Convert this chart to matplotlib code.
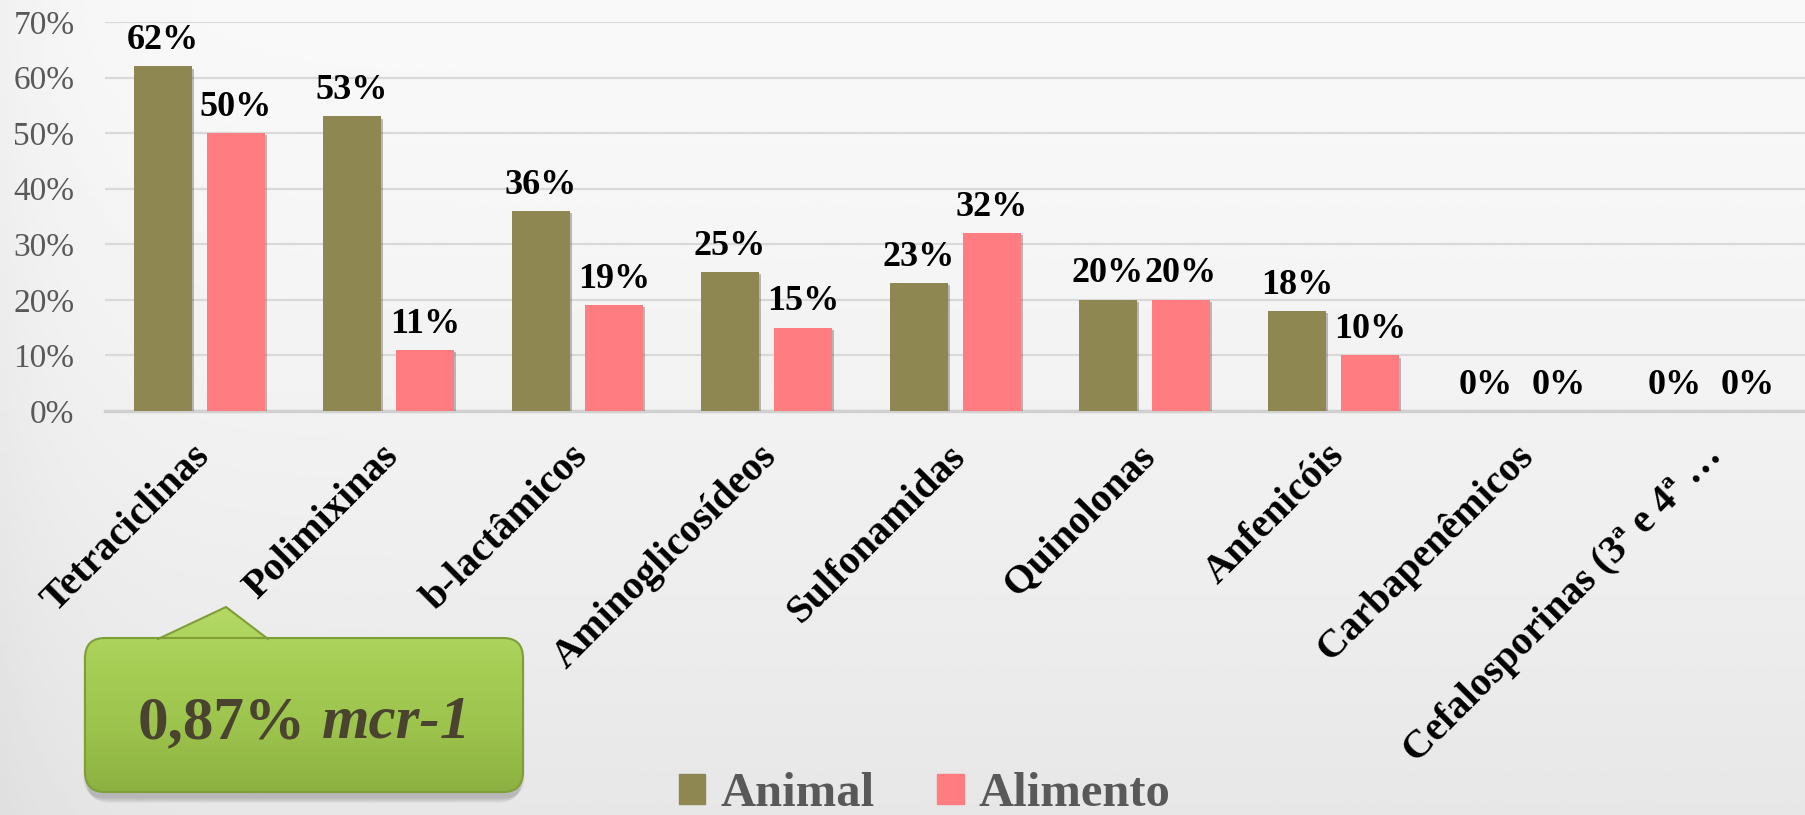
import numpy as np
import matplotlib.pyplot as plt
import matplotlib.patheffects as pe
from matplotlib.patches import FancyBboxPatch, Polygon, Patch
from matplotlib.colors import LinearSegmentedColormap
from matplotlib.transforms import ScaledTranslation

plt.rcParams['font.family'] = ['Liberation Serif', 'DejaVu Serif']

# resistance by antibiotic class
categories = ["Tetraciclinas", "Polimixinas", "b-lactâmicos", "Aminoglicosídeos",
              "Sulfonamidas", "Quinolonas", "Anfenicóis", "Carbapenêmicos",
              "Cefalosporinas (3ª e 4ª …"]
animal = [0.62, 0.53, 0.36, 0.25, 0.23, 0.20, 0.18, 0.0, 0.0]
alimento = [0.50, 0.11, 0.19, 0.15, 0.32, 0.20, 0.10, 0.0, 0.0]
series_names = ["Animal", "Alimento"]
y_ticks = [0.0, 0.1, 0.2, 0.3, 0.4, 0.5, 0.6, 0.7]
callout_value = "0,87%"
callout_gene = "mcr-1"

OLIVE = "#8F8752"
PINK = "#FF7C80"
GREY_TXT = "#595959"

W, H = 1806, 815
fig = plt.figure(figsize=(W / 100, H / 100), dpi=100)

# background panel in pixel coordinates
bg = fig.add_axes([0, 0, 1, 1], zorder=0)
bg.set_xlim(0, W)
bg.set_ylim(H, 0)
bg.axis("off")
yy = np.linspace(0, 1, 300)[:, None]
xx = np.linspace(0, 1, 400)[None, :]
shade = 0.975 - 0.07 * yy ** 1.4 - 0.03 * np.exp(-xx / 0.04)
bg.imshow(shade, cmap="gray", vmin=0, vmax=1, extent=[0, W, H, 0], aspect="auto", zorder=0)

# green callout box with soft shadow
x0, y0, x1, y1 = 85, 638, 523, 792
for k in range(6):
    sh = FancyBboxPatch((x0 - 2 + k, y0 + 4 + k), x1 - x0 + 4 - 2 * k, y1 - y0 + 2,
                        boxstyle="round,pad=0,rounding_size=22",
                        fc="#404040", ec="none", alpha=0.05, zorder=1)
    bg.add_patch(sh)

green = LinearSegmentedColormap.from_list("callout", ["#B4DA66", "#A6CE55", "#9CC34C", "#8DB141"])
grad = np.linspace(0, 1, 200)[:, None]

box = FancyBboxPatch((x0, y0), x1 - x0, y1 - y0, boxstyle="round,pad=0,rounding_size=20",
                     fc="none", ec="#7F9E38", lw=1.5, zorder=3)
bg.add_patch(box)
img = bg.imshow(grad, cmap=green, extent=[x0, x1, y1, 606], aspect="auto", zorder=2)
img.set_clip_path(box)

tab_pts = [(158, 650), (158, 639), (226, 607), (268, 639), (268, 650)]
tab = Polygon(tab_pts, closed=True, fc="none", ec="none", zorder=2)
bg.add_patch(tab)
img2 = bg.imshow(grad, cmap=green, extent=[x0, x1, y1, 606], aspect="auto", zorder=2.5)
img2.set_clip_path(tab)
tx, ty = zip(*tab_pts[1:4])
bg.plot(tx, ty, color="#7F9E38", lw=1.5, zorder=3)

bg.text(306, 738, callout_value, fontsize=44, fontweight="bold", color="#4A4330",
        ha="right", va="baseline", zorder=4)
bg.text(322, 738, callout_gene, fontsize=44, fontweight="bold", style="italic",
        color="#4A4330", ha="left", va="baseline", zorder=4)

# main bar chart
ax = fig.add_axes([105 / W, (H - 411) / H, 1 - 105 / W, (411 - 22) / H], zorder=2)
ax.patch.set_alpha(0)

x = np.arange(len(categories))
offset = 0.193
width = 0.307
bars_a = ax.bar(x - offset, animal, width, color=OLIVE, label=series_names[0], zorder=3)
bars_b = ax.bar(x + offset, alimento, width, color=PINK, label=series_names[1], zorder=3)

for bars in (bars_a, bars_b):
    for rect in bars:
        rect.set_path_effects([pe.SimplePatchShadow(offset=(1.5, -1.5), shadow_rgbFace="#444444",
                                                    alpha=0.35), pe.Normal()])

for bars, vals in ((bars_a, animal), (bars_b, alimento)):
    for rect, v in zip(bars, vals):
        ax.annotate(f"{v:.0%}", (rect.get_x() + rect.get_width() / 2, v),
                    xytext=(0, 12.5), textcoords="offset points",
                    ha="center", va="baseline", fontsize=26, fontweight="bold",
                    color="black", zorder=4)

ax.set_xlim(-0.5, len(categories) - 0.5)
ax.set_ylim(0, 0.7)
ax.set_yticks(y_ticks)
ax.set_yticklabels([f"{t:.0%}" for t in y_ticks])
ax.grid(axis="y", color="#D9D9D9", lw=1.6)
ax.set_axisbelow(True)
for side in ("top", "right", "left"):
    ax.spines[side].set_visible(False)
ax.spines["bottom"].set_color("#D0D0D0")
ax.spines["bottom"].set_linewidth(2.5)
ax.tick_params(axis="y", length=0, labelsize=24, labelcolor=GREY_TXT, pad=22)
ax.tick_params(axis="x", length=0, pad=22)

ax.set_xticks(x)
ax.set_xticklabels(categories, rotation=45, ha="right", rotation_mode="anchor",
                   fontsize=29, fontweight="bold", color="black")
shift = ScaledTranslation(-0.08, 0.04, fig.dpi_scale_trans)
for lbl in ax.get_xticklabels():
    lbl.set_transform(lbl.get_transform() + shift)

handles = [Patch(color=OLIVE, label=series_names[0]), Patch(color=PINK, label=series_names[1])]
fig.legend(handles=handles, loc="lower center", bbox_to_anchor=(0.512, -0.055), ncol=2,
           frameon=False, prop=dict(weight="bold", size=35), labelcolor=GREY_TXT,
           handlelength=0.55, handleheight=0.55, handletextpad=0.3, columnspacing=1.3)

fig.savefig("out.png", dpi=100)
